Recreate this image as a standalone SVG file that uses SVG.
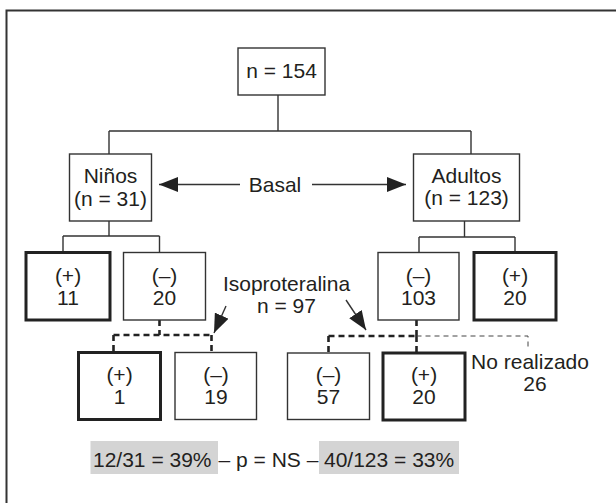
<svg xmlns="http://www.w3.org/2000/svg" width="616" height="503" viewBox="0 0 616 503">
<style>
text{font-family:"Liberation Sans",Arial,sans-serif;font-size:21px;fill:#231f20;text-anchor:middle}
.box{fill:#fff;stroke:#333;stroke-width:1.4}
.tbox{fill:#fff;stroke:#222;stroke-width:3}
.ln{fill:none;stroke:#333;stroke-width:1.4}
.dk{fill:none;stroke:#222;stroke-width:2.6;stroke-dasharray:6 4}
.dt{fill:none;stroke:#444;stroke-width:1;stroke-dasharray:5 4}
.hl{fill:#d4d4d4}
.st{text-anchor:start}
</style>
<defs>
<marker id="ah" viewBox="0 0 19 15" refX="19" refY="7.5" markerWidth="19" markerHeight="15" markerUnits="userSpaceOnUse" orient="auto">
<path d="M0,0 L19,7.5 L0,15 z" fill="#222"/>
</marker>
</defs>
<path d="M6.5,503 V10.5 H616" fill="none" stroke="#333" stroke-width="2"/>
<g id="connectors">
<path class="ln" d="M278,95 V131 M109,131 H471 M109,131 V154 M471,131 V154"/>
<path class="ln" d="M109,221 V236 M63,236 H159.5 M63,236 V252.5 M159.5,236 V252.5"/>
<path class="ln" d="M464.5,221 V237 M419,237 H515 M419,237 V252.5 M515,237 V252.5"/>
<path class="dk" d="M159.5,320 V335 M113.5,335 H211.5 M113.5,335 V352 M211.5,335 V352"/>
<path class="dk" d="M416.5,320 V336 M328.5,336 H416.5 M328.5,336 V353 M416.5,336 V353"/>
<path class="dt" d="M416.5,336 H528 V350"/>
<path class="ln" d="M240,184.5 H159" marker-end="url(#ah)"/>
<path class="ln" d="M312,184.5 H406" marker-end="url(#ah)"/>
<path class="ln" d="M226,306 L214,333" marker-end="url(#ah)"/>
<path class="ln" d="M346,300 L366,330" marker-end="url(#ah)"/>
</g>
<g id="root"><rect class="box" x="238" y="48" width="87" height="47"/><text x="281.5" y="78">n = 154</text></g>
<g id="ninos"><rect class="box" x="69.5" y="154" width="82" height="67"/><text x="110.5" y="183">Niños</text><text x="110.5" y="205.5">(n = 31)</text></g>
<g id="adultos"><rect class="box" x="413.5" y="154" width="106" height="67"/><text x="466.5" y="183">Adultos</text><text x="466.5" y="205">(n = 123)</text></g>
<g id="basal"><text x="275" y="192">Basal</text></g>
<g id="ninos-pos"><rect class="tbox" x="26" y="252.5" width="84" height="67.5"/><text x="68" y="282.5">(+)</text><text x="68" y="305">11</text></g>
<g id="ninos-neg"><rect class="box" x="123.5" y="252.5" width="82" height="67.5"/><text x="164.5" y="282.5">(–)</text><text x="164.5" y="305">20</text></g>
<g id="adultos-neg"><rect class="box" x="378" y="252.5" width="81" height="67.5"/><text x="418.5" y="282.5">(–)</text><text x="418.5" y="305">103</text></g>
<g id="adultos-pos"><rect class="tbox" x="474" y="252.5" width="82" height="67.5"/><text x="515" y="282.5">(+)</text><text x="515" y="305">20</text></g>
<g id="isoproteralina"><text x="286.5" y="290.5">Isoproteralina</text><text x="286.5" y="313">n = 97</text></g>
<g id="ninos-iso-pos"><rect class="tbox" x="78.5" y="352.5" width="82" height="67"/><text x="119.5" y="382">(+)</text><text x="119.5" y="404">1</text></g>
<g id="ninos-iso-neg"><rect class="box" x="175" y="352.5" width="81.5" height="67"/><text x="216" y="382">(–)</text><text x="216" y="404">19</text></g>
<g id="adultos-iso-neg"><rect class="box" x="287.5" y="353" width="82" height="66.5"/><text x="328.5" y="382">(–)</text><text x="328.5" y="404">57</text></g>
<g id="adultos-iso-pos"><rect class="tbox" x="383" y="353" width="82" height="67"/><text x="424" y="382">(+)</text><text x="424" y="404">20</text></g>
<g id="no-realizado"><text x="530" y="368.5">No realizado</text><text x="535" y="391">26</text></g>
<g id="stats">
<rect class="hl" x="90.5" y="441" width="127.5" height="33"/>
<rect class="hl" x="319" y="441" width="140" height="33"/>
<text class="st" x="93" y="466.5">12/31 = 39%</text>
<text class="st" x="218.5" y="466.5">– p = NS –</text>
<text class="st" x="324" y="466.5">40/123 = 33%</text>
</g>
</svg>
